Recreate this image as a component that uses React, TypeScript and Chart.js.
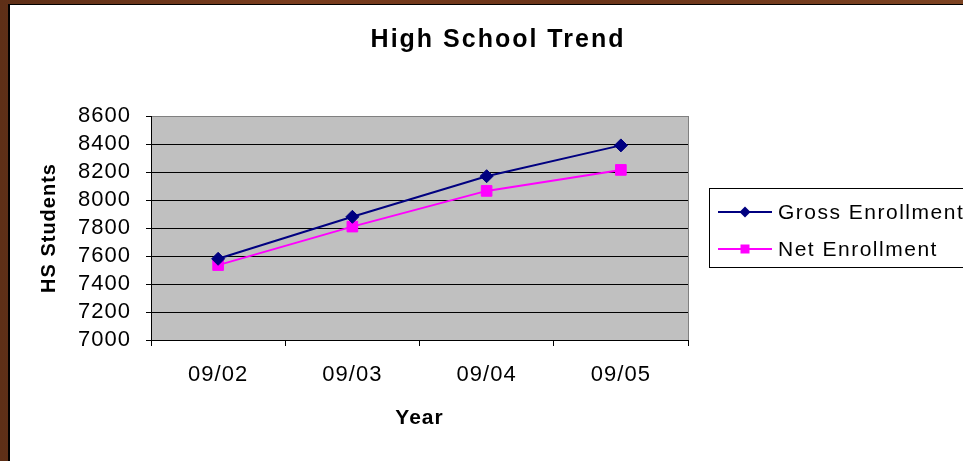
import React, { useEffect, useRef } from "react";
import { Chart, registerables } from "chart.js";

Chart.register(...registerables);

// ---- data ----
const categories = ["09/02", "09/03", "09/04", "09/05"];
const grossEnrollment = [7580, 7880, 8170, 8390];
const netEnrollment = [7535, 7810, 8065, 8215];
const seriesNames = ["Gross Enrollment", "Net Enrollment"];
const yMin = 7000;
const yMax = 8600;
const yStep = 200;
const chartTitle = "High School Trend";
const xTitle = "Year";
const yTitle = "HS Students";

const FONT = '"Liberation Sans", Arial, Helvetica, sans-serif';

// canvas geometry (canvas sits at page x=10, y=5)
const CW = 974;
const CH = 456;
const AREA_LEFT = 141;
const AREA_RIGHT = 678;
const AREA_TOP = 111;
const AREA_BOTTOM = 335;

const spacingPlugin = {
  id: "letterSpacing",
  beforeUpdate(chart: any) {
    chart.ctx.letterSpacing = "1px";
  },
  beforeLayout(chart: any) {
    chart.ctx.letterSpacing = "1px";
  },
  beforeDraw(chart: any) {
    chart.ctx.letterSpacing = "1px";
  },
};

const plotBgPlugin = {
  id: "plotBg",
  beforeDraw(chart: any) {
    const { ctx, chartArea } = chart;
    ctx.save();
    ctx.fillStyle = "#c0c0c0";
    ctx.fillRect(chartArea.left, chartArea.top, chartArea.right - chartArea.left, chartArea.bottom - chartArea.top);
    ctx.restore();
  },
  afterDraw(chart: any) {
    const { ctx, chartArea } = chart;
    ctx.save();
    ctx.strokeStyle = "#808080";
    ctx.lineWidth = 1;
    ctx.beginPath();
    const x = Math.round(chartArea.right) + 0.5;
    ctx.moveTo(x, chartArea.top);
    ctx.lineTo(x, chartArea.bottom);
    ctx.stroke();
    ctx.restore();
  },
};

const titleLegendPlugin = {
  id: "titleLegend",
  afterDraw(chart: any) {
    const { ctx } = chart;
    ctx.save();
    // title
    ctx.letterSpacing = "2px";
    ctx.font = `bold 25px ${FONT}`;
    ctx.fillStyle = "#000";
    ctx.textAlign = "center";
    ctx.textBaseline = "middle";
    ctx.fillText(chartTitle, CW / 2 + 1, 35);

    // legend
    ctx.letterSpacing = "1.5px";
    ctx.strokeStyle = "#000";
    ctx.lineWidth = 1;
    ctx.strokeRect(699.5, 183.5, 300, 79);
    ctx.font = `21px ${FONT}`;
    ctx.textAlign = "left";
    chart.data.datasets.forEach((ds: any, i: number) => {
      const y = 207 + i * 37;
      ctx.strokeStyle = ds.borderColor;
      ctx.lineWidth = 2;
      ctx.beginPath();
      ctx.moveTo(708, y);
      ctx.lineTo(762, y);
      ctx.stroke();
      ctx.fillStyle = ds.borderColor;
      ctx.beginPath();
      if (ds.pointStyle === "rectRot") {
        const r = 5.5;
        ctx.moveTo(735 - r, y);
        ctx.lineTo(735, y - r);
        ctx.lineTo(735 + r, y);
        ctx.lineTo(735, y + r);
        ctx.closePath();
      } else {
        ctx.rect(735 - 4.5, y - 4.5, 9, 9);
      }
      ctx.fill();
      ctx.fillStyle = "#000";
      ctx.fillText(ds.label, 768, y + 1);
    });
    ctx.restore();
  },
};

export default function App() {
  const canvasRef = useRef<HTMLCanvasElement | null>(null);

  useEffect(() => {
    const canvas = canvasRef.current;
    if (!canvas) return;
    Chart.defaults.font.family = FONT;
    Chart.defaults.color = "#000";

    const chart = new Chart(canvas, {
      type: "line",
      data: {
        labels: categories,
        datasets: [
          {
            label: seriesNames[0],
            data: grossEnrollment,
            borderColor: "#000080",
            backgroundColor: "#000080",
            borderWidth: 2,
            pointStyle: "rectRot",
            pointRadius: 6.5,
            pointHoverRadius: 6.5,
            pointBackgroundColor: "#000080",
            pointBorderColor: "#000080",
            pointBorderWidth: 1,
            tension: 0,
          },
          {
            label: seriesNames[1],
            data: netEnrollment,
            borderColor: "#ff00ff",
            backgroundColor: "#ff00ff",
            borderWidth: 2,
            pointStyle: "rect",
            pointRadius: 7.5,
            pointHoverRadius: 7.5,
            pointBackgroundColor: "#ff00ff",
            pointBorderColor: "#ff00ff",
            pointBorderWidth: 1,
            tension: 0,
          },
        ],
      },
      options: {
        animation: false,
        responsive: false,
        devicePixelRatio: 1,
        layout: {
          padding: { left: 0, top: AREA_TOP, right: CW - AREA_RIGHT, bottom: 0 },
        },
        plugins: {
          legend: { display: false },
          title: { display: false },
          tooltip: { enabled: false },
        },
        scales: {
          x: {
            type: "category",
            offset: true,
            grid: {
              offset: true,
              drawOnChartArea: false,
              drawTicks: true,
              tickLength: 6,
              color: "#000",
              tickColor: "#000",
            },
            border: { display: true, color: "#000", width: 1 },
            ticks: {
              font: { size: 22 },
              color: "#000",
              padding: 16,
              maxRotation: 0,
              autoSkip: false,
            },
            title: {
              display: true,
              text: xTitle,
              font: { size: 21, weight: "bold" },
              color: "#000",
              padding: { top: 0, bottom: 30 },
            },
            afterFit(scale: any) {
              scale.height = CH - AREA_BOTTOM;
            },
          },
          y: {
            min: yMin,
            max: yMax,
            grid: {
              color: (ctx: any) => (ctx.tick && ctx.tick.value === yMax ? "#808080" : "#000"),
              tickColor: "#000",
              lineWidth: 1,
              tickLength: 5,
              drawTicks: true,
            },
            border: { display: true, color: "#000", width: 1 },
            ticks: {
              stepSize: yStep,
              autoSkip: false,
              font: { size: 22 },
              color: "#000",
              padding: 15,
              callback: (v: any) => String(v),
            },
            title: {
              display: true,
              text: yTitle,
              font: { size: 20, weight: "bold" },
              color: "#000",
              padding: { top: 27, bottom: 0 },
            },
            afterFit(scale: any) {
              scale.width = AREA_LEFT;
            },
          },
        },
      },
      plugins: [spacingPlugin, plotBgPlugin, titleLegendPlugin],
    } as any);

    return () => chart.destroy();
  }, []);

  return (
    <div
      style={{
        position: "fixed",
        left: 0,
        top: 0,
        width: 963,
        height: 461,
        overflow: "hidden",
        background: "linear-gradient(90deg, #5e2f17 0%, #7a3d1e 30%, #6a3419 60%, #7d4322 100%)",
      }}
    >
      <div
        style={{
          position: "absolute",
          left: 8,
          top: 4,
          width: 1000,
          height: 470,
          background: "#fff",
          borderLeft: "2px solid #000",
          borderTop: "1px solid #000",
        }}
      >
        <canvas
          ref={canvasRef}
          width={CW}
          height={CH}
          style={{ display: "block", width: CW, height: CH }}
        />
      </div>
    </div>
  );
}
